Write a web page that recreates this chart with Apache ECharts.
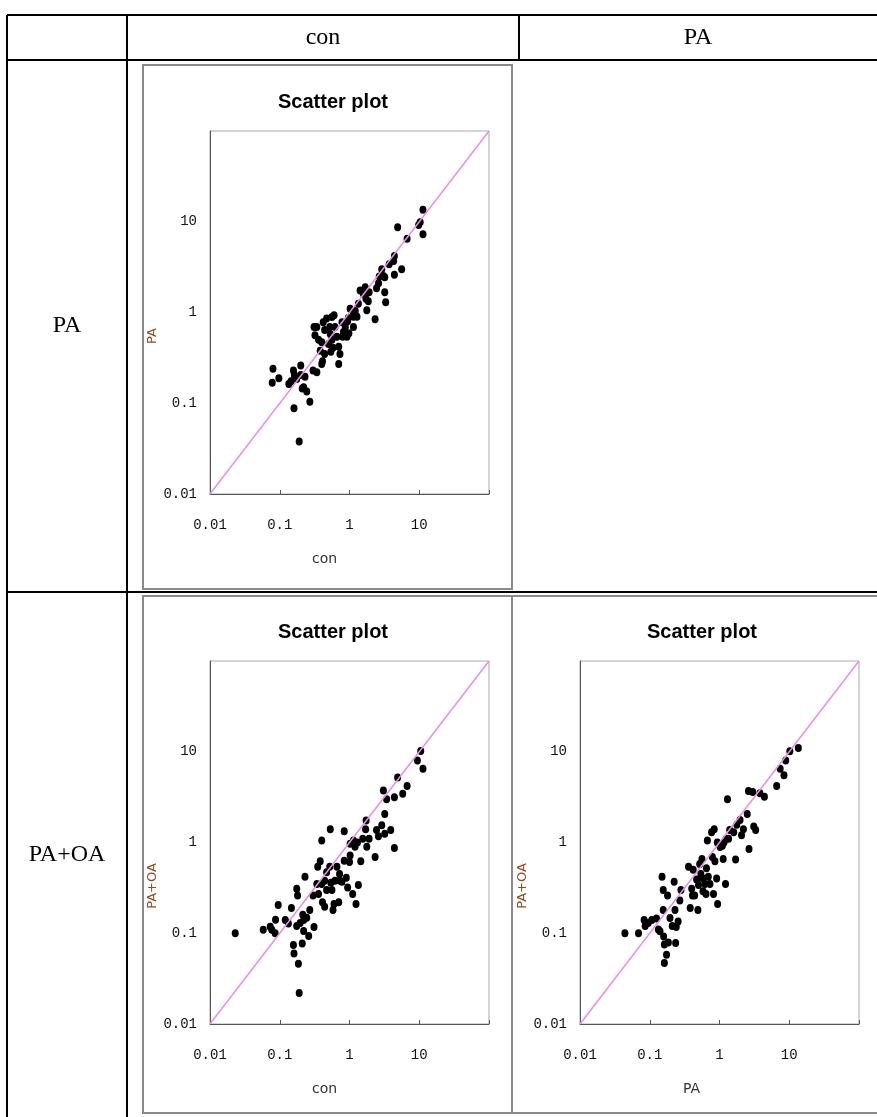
<!DOCTYPE html>
<html>
<head>
<meta charset="UTF-8">
<title>scatter</title>
<script src="https://cdn.jsdelivr.net/npm/echarts/dist/echarts.min.js"></script>
<style>
    body { margin: 0; padding: 0; background: #fff; }
</style>
</head>
<body>
<div id="app" style="width:877px;height:1117px;"></div>
<script type="text/javascript">
    // table headers
    var colHeads = ['con', 'PA'];
    var rowHeads = ['PA', 'PA+OA'];
    var tickLabels = ['0.01', '0.1', '1', '10', ''];

    // con vs PA
    var p1X = [0.080, 0.078, 0.097, 0.135, 0.145, 0.157, 0.162, 0.175, 0.20, 0.20,
        0.22, 0.23, 0.244, 0.21, 0.16, 0.19, 0.27, 0.30, 0.34, 0.31,
        0.32, 0.36, 0.38, 0.40, 0.41, 0.44, 0.40, 0.42, 0.47, 0.52,
        0.56, 0.60, 0.53, 0.56, 0.58, 0.54, 0.62, 0.66, 0.70, 0.70,
        0.73, 0.82, 0.78, 0.87, 0.92, 0.98, 0.96, 1.02, 0.94, 1.14,
        1.21, 1.34, 1.14, 1.28, 1.42, 1.58, 1.72, 1.77, 1.91, 1.68,
        1.86, 2.33, 2.44, 2.61, 2.67, 2.9, 3.06, 3.2, 3.2, 3.3,
        3.7, 4.3, 4.4, 4.9, 5.6, 6.7, 9.8, 10.3, 11.3, 11.3,
        4.4, 1.14, 0.80, 0.50, 0.34, 0.44];
    var p1Y = [0.24, 0.168, 0.188, 0.163, 0.175, 0.23, 0.205, 0.185, 0.26, 0.205,
        0.15, 0.196, 0.135, 0.145, 0.088, 0.038, 0.104, 0.23, 0.22, 0.69,
        0.56, 0.50, 0.38, 0.47, 0.29, 0.35, 0.27, 0.78, 0.86, 0.69,
        0.89, 0.93, 0.58, 0.50, 0.41, 0.37, 0.69, 0.54, 0.42, 0.27,
        0.35, 0.61, 0.78, 0.69, 0.54, 0.59, 0.87, 1.10, 0.80, 0.98,
        1.04, 1.25, 0.69, 0.90, 1.75, 1.61, 1.42, 1.06, 1.67, 1.90,
        1.33, 0.84, 1.85, 2.10, 2.50, 3.0, 2.53, 2.45, 1.67, 1.3,
        3.4, 3.7, 2.6, 8.7, 3.0, 6.5, 9.2, 9.9, 13.6, 7.3,
        4.2, 0.90, 0.54, 0.45, 0.69, 0.64];

    // con vs PA+OA
    var p2X = [0.023, 0.058, 0.073, 0.077, 0.086, 0.087, 0.095, 0.12, 0.133, 0.147,
        0.157, 0.16, 0.175, 0.18, 0.175, 0.185, 0.19, 0.196, 0.21, 0.214,
        0.22, 0.23, 0.244, 0.26, 0.27, 0.30, 0.31, 0.34, 0.35, 0.38,
        0.36, 0.40, 0.41, 0.44, 0.44, 0.47, 0.53, 0.52, 0.54, 0.56,
        0.58, 0.60, 0.62, 0.66, 0.70, 0.72, 0.78, 0.84, 0.84, 0.90,
        0.94, 1.0, 1.02, 1.11, 1.2, 1.24, 1.3, 1.34, 1.45, 1.55,
        1.7, 1.73, 1.77, 1.91, 2.33, 2.44, 2.6, 2.9, 3.06, 3.2,
        3.2, 3.4, 3.9, 4.4, 4.4, 4.9, 5.8, 6.7, 9.4, 10.5,
        11.3, 1.02, 0.47, 0.40, 0.73, 0.22, 1.14];
    var p2Y = [0.10, 0.109, 0.118, 0.109, 0.10, 0.141, 0.205, 0.14, 0.128, 0.19,
        0.074, 0.060, 0.31, 0.26, 0.12, 0.046, 0.022, 0.13, 0.077, 0.16,
        0.106, 0.42, 0.148, 0.093, 0.18, 0.26, 0.117, 0.35, 0.54, 0.62,
        0.27, 1.05, 0.22, 0.196, 0.38, 0.47, 1.40, 0.54, 0.36, 0.30,
        0.18, 0.21, 0.38, 0.54, 0.22, 0.45, 0.37, 1.33, 0.63, 0.41,
        0.32, 0.61, 0.72, 0.27, 0.90, 0.21, 1.0, 0.34, 0.62, 1.1,
        1.4, 1.75, 0.90, 1.10, 0.69, 1.37, 1.17, 1.55, 3.73, 2.06,
        1.25, 3.0, 1.37, 3.15, 0.87, 5.2, 3.45, 4.2, 8.0, 10.2,
        6.5, 0.97, 0.30, 0.35, 0.38, 0.14, 1.05];

    // PA vs PA+OA
    var p3X = [0.044, 0.069, 0.083, 0.086, 0.095, 0.107, 0.125, 0.133, 0.14, 0.15,
        0.156, 0.156, 0.158, 0.162, 0.162, 0.174, 0.18, 0.185, 0.195, 0.21,
        0.224, 0.23, 0.235, 0.24, 0.255, 0.27, 0.28, 0.36, 0.38, 0.40,
        0.41, 0.42, 0.44, 0.49, 0.50, 0.52, 0.54, 0.56, 0.58, 0.58,
        0.62, 0.64, 0.67, 0.69, 0.73, 0.77, 0.79, 0.82, 0.84, 0.86,
        0.91, 0.93, 0.94, 1.02, 1.1, 1.13, 1.16, 1.22, 1.25, 1.3,
        1.35, 1.4, 1.6, 1.7, 1.77, 1.97, 2.07, 2.2, 2.5, 2.6,
        2.65, 3.0, 3.1, 3.3, 3.8, 4.4, 6.6, 7.4, 8.4, 8.9,
        10.2, 13.5, 0.65, 0.47];
    var p3Y = [0.10, 0.10, 0.14, 0.12, 0.13, 0.14, 0.145, 0.11, 0.105, 0.42,
        0.30, 0.18, 0.092, 0.075, 0.047, 0.058, 0.26, 0.079, 0.147, 0.12,
        0.37, 0.18, 0.078, 0.117, 0.135, 0.23, 0.30, 0.54, 0.19, 0.31,
        0.26, 0.50, 0.26, 0.18, 0.34, 0.58, 0.45, 0.66, 0.40, 0.29,
        0.35, 0.27, 1.05, 0.42, 0.35, 1.30, 0.69, 0.27, 1.40, 0.62,
        0.40, 1.0, 0.21, 0.89, 0.92, 0.66, 1.0, 0.35, 1.10, 3.0,
        1.10, 1.37, 1.30, 0.65, 1.57, 1.77, 1.20, 1.40, 2.06, 3.7,
        0.85, 3.6, 1.50, 1.37, 3.5, 3.2, 4.2, 6.5, 5.5, 8.0,
        10.1, 11.0, 0.52, 0.39];

    // y = x reference line ends
    var diag = [0.01, 100];

    var plots = [
        {x: p1X, y: p1Y, xName: 'con', yName: 'PA', left: 210, top: 131, xPad: 50, yPad: 47},
        {x: p2X, y: p2Y, xName: 'con', yName: 'PA+OA', left: 210, top: 661, xPad: 50, yPad: 87},
        {x: p3X, y: p3Y, xName: 'PA', yName: 'PA+OA', left: 580, top: 661, xPad: 56, yPad: 87}
    ];

    function zip(a, b) {
        return a.map(function (v, i) { return [v, b[i]]; });
    }

    function logLabel(v) {
        var p = Math.round(Math.log10(v));
        return tickLabels[p + 2] || '';
    }

    var labelFont = {fontFamily: '"Liberation Mono"', fontSize: 14, color: '#111'};
    var grids = [], xAxes = [], yAxes = [], series = [];

    plots.forEach(function (p, i) {
        grids.push({left: p.left, top: p.top, width: 279, height: 363, show: true, borderColor: '#a8a8a8', borderWidth: 1});
        xAxes.push({
            type: 'log', logBase: 10, min: 0.01, max: 100, gridIndex: i,
            splitLine: {show: false},
            axisLine: {lineStyle: {color: '#555'}},
            axisTick: {inside: true, length: 4, lineStyle: {color: '#555'}},
            axisLabel: Object.assign({margin: 24, formatter: logLabel}, labelFont),
            name: p.xName, nameLocation: 'middle', nameGap: 58,
            nameTextStyle: {fontFamily: '"DejaVu Sans"', fontSize: 14, color: '#333', padding: [0, p.xPad, 0, 0]}
        });
        yAxes.push({
            type: 'log', logBase: 10, min: 0.01, max: 100, gridIndex: i,
            splitLine: {show: false},
            axisLine: {lineStyle: {color: '#555'}},
            axisTick: {show: false},
            axisLabel: Object.assign({margin: 13, formatter: logLabel}, labelFont),
            name: p.yName, nameLocation: 'middle', nameGap: 44,
            nameTextStyle: {fontFamily: '"DejaVu Sans"', fontSize: 13, color: '#8e4a24', padding: [0, p.yPad, 0, 0]}
        });
        series.push({
            type: 'line', xAxisIndex: i, yAxisIndex: i, data: zip(diag, diag),
            symbol: 'none', silent: true, lineStyle: {color: '#e88ee8', width: 1.5}
        });
        series.push({
            type: 'scatter', xAxisIndex: i, yAxisIndex: i, data: zip(p.x, p.y),
            symbol: 'circle', symbolSize: [7, 8], itemStyle: {color: '#000', opacity: 1}
        });
    });

    // table rules, cell frames and texts
    function hline(x1, x2, y, w, c) {
        return {type: 'line', shape: {x1: x1, y1: y, x2: x2, y2: y}, style: {stroke: c || '#000', lineWidth: w}};
    }
    function vline(x, y1, y2, w, c) {
        return {type: 'line', shape: {x1: x, y1: y1, x2: x, y2: y2}, style: {stroke: c || '#000', lineWidth: w}};
    }
    function frame(x, y, w, h) {
        return {type: 'rect', shape: {x: x, y: y, width: w, height: h}, style: {fill: null, stroke: '#8a8a8a', lineWidth: 2}};
    }
    function label(t, x, y, font) {
        return {type: 'text', x: x, y: y, style: {text: t, font: font, fill: '#000', align: 'center', verticalAlign: 'middle'}};
    }
    var cellFont = '24px "Liberation Serif"';
    var titleFont = 'bold 20px "Liberation Sans Narrow", "Liberation Sans"';

    var graphic = [
        hline(7, 877, 15, 2), hline(7, 877, 60, 2), hline(7, 877, 592, 2),
        vline(7, 15, 1117, 2), vline(127, 15, 1117, 2), vline(519, 15, 60, 2),
        frame(143, 65, 369, 524), frame(143, 596, 369, 517), frame(512, 596, 372, 517),
        label(colHeads[0], 323, 38, cellFont), label(colHeads[1], 698, 38, cellFont),
        label(rowHeads[0], 67, 326, cellFont), label(rowHeads[1], 67, 855, cellFont),
        label('Scatter plot', 333, 102, titleFont),
        label('Scatter plot', 333, 632, titleFont),
        label('Scatter plot', 702, 632, titleFont)
    ];

    var myChart = echarts.init(document.getElementById('app'), null, {renderer: 'canvas'});
    myChart.setOption({
        animation: false,
        backgroundColor: '#fff',
        graphic: graphic,
        grid: grids,
        xAxis: xAxes,
        yAxis: yAxes,
        series: series
    });
</script>
</body>
</html>
